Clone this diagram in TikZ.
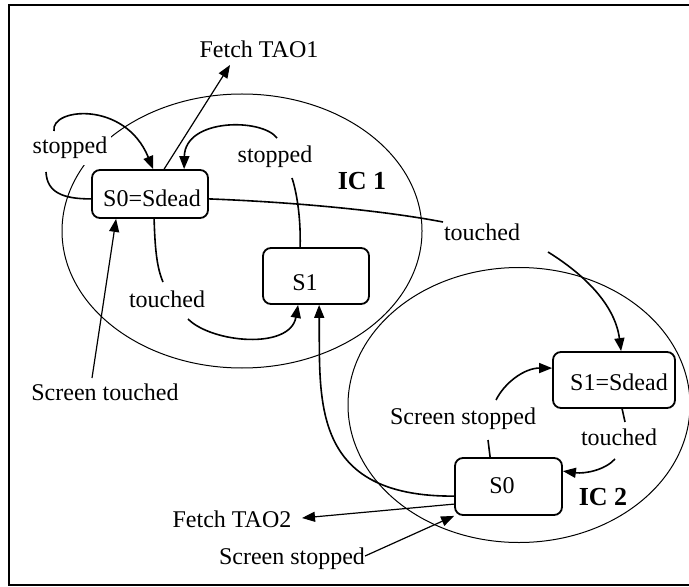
\documentclass[tikz,border=0pt]{standalone}
\usepackage{fontspec}
\setmainfont{Liberation Serif}
\usetikzlibrary{arrows.meta,calc}
\begin{document}
\begin{tikzpicture}[x=0.5pt,y=-0.5pt,
  every node/.style={font=\fontsize{12}{14}\selectfont},
  statebox/.style={draw, line width=0.9pt, rounded corners=4pt, fill=white, inner sep=0pt},
  boxtext/.style={anchor=base, inner sep=0pt},
  lbl/.style={anchor=base, fill=white, inner xsep=2pt, inner ysep=3pt},
  iclbl/.style={anchor=base, inner sep=1pt, font=\fontsize{13}{15}\selectfont\bfseries},
  zone/.style={line width=0.5pt},
  conn/.style={line width=0.8pt},
  arr/.style={line width=0.8pt, -{Triangle[length=6.5pt,width=5pt]}},
  thinarr/.style={line width=0.6pt, -{Triangle[length=6.5pt,width=5pt]}}
]
\useasboundingbox (0,0) rectangle (689,587);
% outer frame (open on the right, where the page ends)
\draw[line width=1pt] (700,5) -- (9,5) -- (9,585) -- (700,585);

% interaction contexts
\draw[zone] (242,231) ellipse [x radius=180, y radius=137];
\draw[zone] (519,405) ellipse [x radius=171, y radius=137.5];

% states
\node[statebox, minimum width=58pt, minimum height=24pt] (s0dead) at (150,194) {};
\node[boxtext] (s0deadtxt) at (152,207) {S0=Sdead};
\node[statebox, minimum width=53pt, minimum height=28pt] (s1) at (316,276) {};
\node[boxtext] (s1txt) at (305,291) {S1};
\node[statebox, minimum width=61pt, minimum height=28pt] (s1dead) at (614,380) {};
\node[boxtext] (s1deadtxt) at (619,390) {S1=Sdead};
\node[statebox, minimum width=53.5pt, minimum height=28.5pt] (s0) at (508.5,486.5) {};
\node[boxtext] (s0txt) at (502,493) {S0};

% labels
\node[lbl] (fetch1) at (259,58) {Fetch TAO1};
\node[lbl] (stopL) at (70,154) {stopped};
\node[lbl] (stopR) at (275,163) {stopped};
\node[iclbl] (ic1) at (362,190) {IC 1};
\node[lbl] (touchTR) at (482,241) {touched};
\node[lbl] (touchL) at (167,307) {touched};
\node[lbl] (scrT) at (105,400) {Screen touched};
\node[lbl] (scrS) at (463,424) {Screen stopped};
\node[lbl] (touchR) at (619,445) {touched};
\node[iclbl] (ic2) at (603,505) {IC 2};
\node[lbl] (fetch2) at (232,527) {Fetch TAO2};
\node[lbl] (scrS2) at (292,564) {Screen stopped};

% IC 1 transitions
\draw[thinarr] ($(s0dead.north west)+(73,0)$) -- ($(fetch1.base)+(-29,7)$);
\draw[conn] ($(s0dead.south west)+(0,-20)$) .. controls (62,199) and (47,192) .. ($(stopL.base)+(-24,18)$);
\draw[arr] ($(stopL.base)+(-16,-23)$) .. controls (50,108) and (125,100) .. ($(s0dead.north west)+(62,0)$);
\draw[conn] ($(s1.north west)+(38,0)$) .. controls (301,215) and (296,190) .. ($(stopR.base)+(17,15)$);
\draw[arr] ($(stopR.base)+(2,-25)$) .. controls (262,118) and (185,118) .. ($(s0dead.north west)+(93,0)$);
\draw[conn] ($(s0dead.south west)+(63,0)$) .. controls (155,250) and (157,268) .. ($(touchL.base)+(-4,-25)$);
\draw[arr] ($(touchL.base)+(21,12)$) .. controls (212,343) and (290,350) .. ($(s1.south west)+(36,0)$);
\draw[thinarr] ($(scrT.base)+(-13,-22)$) -- ($(s0dead.south west)+(25,0)$);

% IC 1 to IC 2
\draw[conn] ($(s0dead.south east)+(0,-20)$) .. controls (290,202) and (380,210) .. ($(touchTR.base)+(-39,-19)$);
\draw[arr] ($(touchTR.base)+(66,11)$) .. controls (585,275) and (615,305) .. ($(s1dead.north west)+(69,0)$);

% IC 2 transitions
\draw[conn] ($(s0.north west)+(36,0)$) -- ($(scrS.base)+(25,16)$);
\draw[arr] ($(scrS.base)+(33,-24)$) .. controls (505,382) and (525,368) .. ($(s1dead.north west)+(0,17)$);
\draw[conn] ($(s1dead.south west)+(70,0)$) -- ($(touchR.base)+(6,-23)$);
\draw[arr] ($(touchR.base)+(-4,14)$) .. controls (605,470) and (585,474) .. ($(s0.north east)+(0,14)$);
\draw[arr] ($(s0.north west)+(0,39)$) .. controls (310,497) and (320,400) .. ($(s1.south west)+(57,0)$);
\draw[thinarr] ($(s0.north west)+(0,47)$) -- ($(fetch2.base)+(70,-9)$);
\draw[thinarr] ($(scrS2.base)+(73,-8)$) -- (s0.south west);
\end{tikzpicture}
\end{document}
